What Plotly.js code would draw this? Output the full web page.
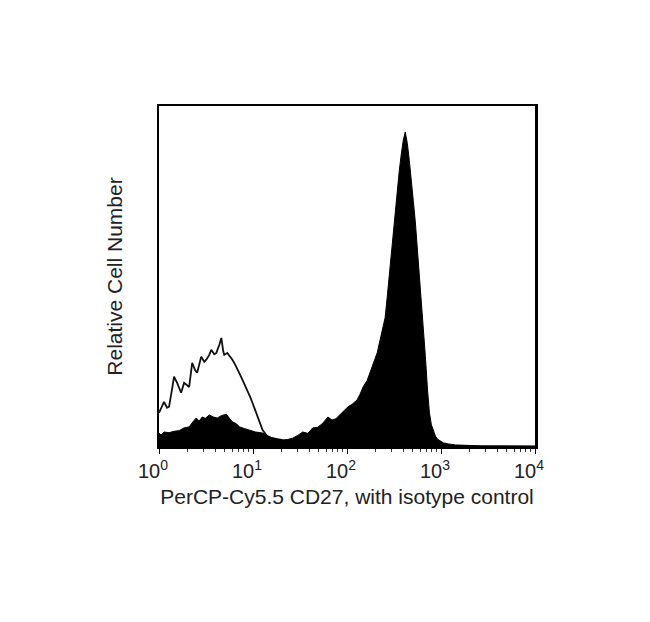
<!DOCTYPE html>
<html>
<head>
<meta charset="utf-8">
<script src="https://cdn.plot.ly/plotly-3.0.1.min.js"></script>
<style>html,body{margin:0;padding:0;background:#fff;}#chart{width:650px;height:622px;}</style>
</head>
<body>
<div id="chart"></div>
<script>
// Fluorescence channel (log10 of intensity) and relative counts
const cd27LogFl = [0,0.021,0.053,0.107,0.160,0.214,0.267,0.321,0.364,0.396,0.428,0.460,0.492,0.535,0.578,0.620,0.663,0.717,0.749,0.781,0.824,0.856,0.909,0.963,1.027,1.102,1.155,1.209,1.262,1.316,1.369,1.422,1.476,1.529,1.583,1.636,1.690,1.743,1.797,1.840,1.882,1.925,1.968,2.011,2.053,2.107,2.139,2.171,2.214,2.246,2.278,2.321,2.353,2.385,2.406,2.428,2.449,2.471,2.492,2.513,2.535,2.556,2.578,2.599,2.620,2.642,2.663,2.684,2.706,2.727,2.749,2.770,2.791,2.813,2.834,2.856,2.877,2.898,2.920,2.941,2.963,2.995,3.027,3.080,3.155,3.262,3.422,3.636,3.850,4.0];
const cd27Counts = [4.1,3.5,4.4,4.2,4.6,4.8,5.6,5.9,7.5,8.5,7.6,8.8,8.4,9.4,8.8,8.5,9.2,9.6,8.4,7.4,6.8,5.9,5.4,5.0,4.4,4.1,3.4,2.6,2.2,2.0,2.2,2.6,3.4,4.4,4.0,5.6,5.8,7.0,8.8,7.9,8.3,9.4,10.5,11.8,12.5,13.8,15.5,17.6,19.5,21.8,24.5,27.6,31.5,35.5,38,44,50,58,64,70,76,81,86,90,92.4,89,84,79,72,66,58,51,44,35,26.5,17,10,6.5,4.5,3.2,2.3,1.7,1.2,0.9,0.6,0.5,0.3,0.3,0.2,0.2];

const isoLogFl = [0,0.032,0.053,0.086,0.107,0.139,0.160,0.193,0.214,0.235,0.267,0.299,0.321,0.353,0.385,0.406,0.428,0.449,0.481,0.503,0.535,0.556,0.588,0.610,0.642,0.663,0.684,0.695,0.727,0.759,0.781,0.813,0.834,0.866,0.888,0.920,0.941,0.973,0.995,1.027,1.048,1.080,1.102,1.134,1.155,1.209,1.262,1.316,1.390,1.476,1.636,1.925,2.5,3.0,3.5,4.0];
const isoCounts = [10,12,13.2,11.5,11.8,17,20.6,18.8,17.5,15.9,18.8,18.2,17.6,24.7,22.5,21.8,24,26.5,25,25.6,27,28.5,27.2,27.6,30,32,28,27,27.6,26.5,25.6,24,22.6,21,19.7,17.8,16.8,14.5,12.9,10.5,8.8,6.5,5.0,3.8,2.9,2.6,2.2,2.0,1.8,1.5,1.0,0.6,0.4,0.3,0.2,0.2];

const tickValues = [1,10,100,1000,10000];
const tickLabels = ['10<sup>0</sup>','10<sup>1</sup>','10<sup>2</sup>','10<sup>3</sup>','10<sup>4</sup>'];

const toIntensity = a => a.map(v => Math.pow(10, v));

const traces = [
  {x: toIntensity(isoLogFl), y: isoCounts, type:'scatter', mode:'lines',
   line:{color:'#111', width:1.8}, hoverinfo:'skip', showlegend:false},
  {x: toIntensity(cd27LogFl), y: cd27Counts, type:'scatter', mode:'lines',
   fill:'tozeroy', fillcolor:'#000', line:{color:'#000', width:1}, hoverinfo:'skip', showlegend:false}
];

const font = {family:'"Liberation Sans", Arial, sans-serif', color:'#222'};
const layout = {
  width:650, height:622,
  margin:{l:159, r:115, t:106, b:175},
  paper_bgcolor:'#fff', plot_bgcolor:'#fff',
  font: font,
  xaxis:{type:'log', range:[0,4], tickvals:tickValues, ticktext:tickLabels,
    ticks:'outside', ticklen:5, tickwidth:1, tickcolor:'#000',
    minor:{ticks:'outside', ticklen:3, tickcolor:'#333', dtick:'D1', showgrid:false},
    showgrid:false, zeroline:false, showline:true, linecolor:'#000', linewidth:2, mirror:true,
    tickfont:{size:20, color:'#222'}, ticklabelshift:-6,
    title:{text:'PerCP-Cy5.5 CD27, with isotype control', font:{size:21, color:'#222'}, standoff:8}},
  yaxis:{range:[0,100], showticklabels:false, ticks:'', showgrid:false, zeroline:false,
    showline:true, linecolor:'#000', linewidth:2.5, mirror:true,
    title:{text:'Relative Cell Number', font:{size:21, color:'#222'}, standoff:28}}
};
Plotly.newPlot('chart', traces, layout, {staticPlot:true});
</script>
</body>
</html>
